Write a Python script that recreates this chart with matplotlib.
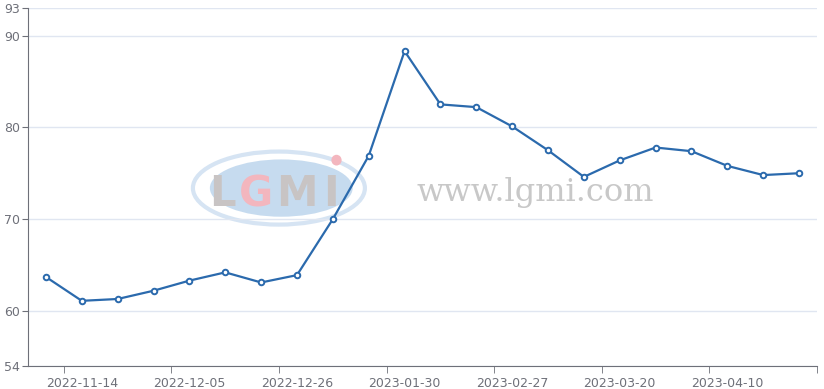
import matplotlib.pyplot as plt
from matplotlib.patches import Ellipse

# dates (category axis) and values
dates = ['2022-11-07', '2022-11-14', '2022-11-21', '2022-11-28', '2022-12-05',
         '2022-12-12', '2022-12-19', '2022-12-26', '2023-01-03', '2023-01-09',
         '2023-01-30', '2023-02-06', '2023-02-13', '2023-02-27', '2023-03-06',
         '2023-03-13', '2023-03-20', '2023-03-27', '2023-04-03', '2023-04-10',
         '2023-04-17', '2023-04-24']
values = [63.7, 61.1, 61.3, 62.2, 63.3, 64.2, 63.1, 63.9, 70.0, 76.9, 88.3,
          82.5, 82.2, 80.1, 77.5, 74.6, 76.4, 77.8, 77.4, 75.8, 74.8, 75.0]
y_ticks = [54, 60, 70, 80, 90, 93]

fig = plt.figure(figsize=(8.24, 3.89), dpi=100)
ax = fig.add_axes([28 / 824, 1 - 366 / 389, 789 / 824, 358 / 389])

n = len(dates)
x = list(range(n))

# watermark (logo + site name)
ax.add_patch(Ellipse((0.318, 0.497), 0.218, 0.204, transform=ax.transAxes,
                     facecolor='none', edgecolor='#d6e4f3', lw=3, zorder=0))
ax.add_patch(Ellipse((0.321, 0.497), 0.181, 0.16, transform=ax.transAxes,
                     facecolor='#c6dbef', edgecolor='none', zorder=0))
for ch, xx, col in [('L', 0.247, '#c8c4c4'), ('G', 0.289, '#f3b6be'),
                    ('M', 0.341, '#c8c4c4'), ('I', 0.384, '#c8c4c4')]:
    ax.text(xx, 0.48, ch, transform=ax.transAxes, fontsize=30, fontweight='bold',
            color=col, ha='center', va='center', zorder=0.5)
ax.add_patch(Ellipse((0.391, 0.575), 0.013, 0.03, transform=ax.transAxes,
                     facecolor='#f3b6be', edgecolor='none', zorder=0.5))
ax.text(0.643, 0.485, 'www.lgmi.com', transform=ax.transAxes, fontsize=23,
        family='DejaVu Serif', color='#c8c8c8', ha='center', va='center', zorder=0.5)

ax.plot(x, values, color='#2b6aad', lw=1.6, marker='o', ms=4,
        mfc='white', mec='#2b6aad', mew=1.4, zorder=3)

ax.set_xlim(-0.5, n - 0.5)
ax.set_ylim(54, 93)
ax.set_yticks(y_ticks)
ax.yaxis.grid(True, color='#e0e6f1', lw=1)
ax.set_axisbelow(True)

label_idx = list(range(1, n, 3))
ax.set_xticks(label_idx)
ax.set_xticklabels([dates[i] for i in label_idx])
ax.set_xticks([i - 0.5 for i in label_idx] + [n - 0.5], minor=True)
ax.tick_params(axis='x', which='major', length=0, pad=8, labelsize=9, labelcolor='#6e7079')
ax.tick_params(axis='x', which='minor', length=5, color='#6e7079')
ax.tick_params(axis='y', length=4, color='#6e7079', labelsize=9, labelcolor='#6e7079', pad=2)

for s in ['top', 'right']:
    ax.spines[s].set_visible(False)
ax.spines['left'].set_color('#6e7079')
ax.spines['bottom'].set_color('#6e7079')

fig.savefig('out.png', dpi=100)
